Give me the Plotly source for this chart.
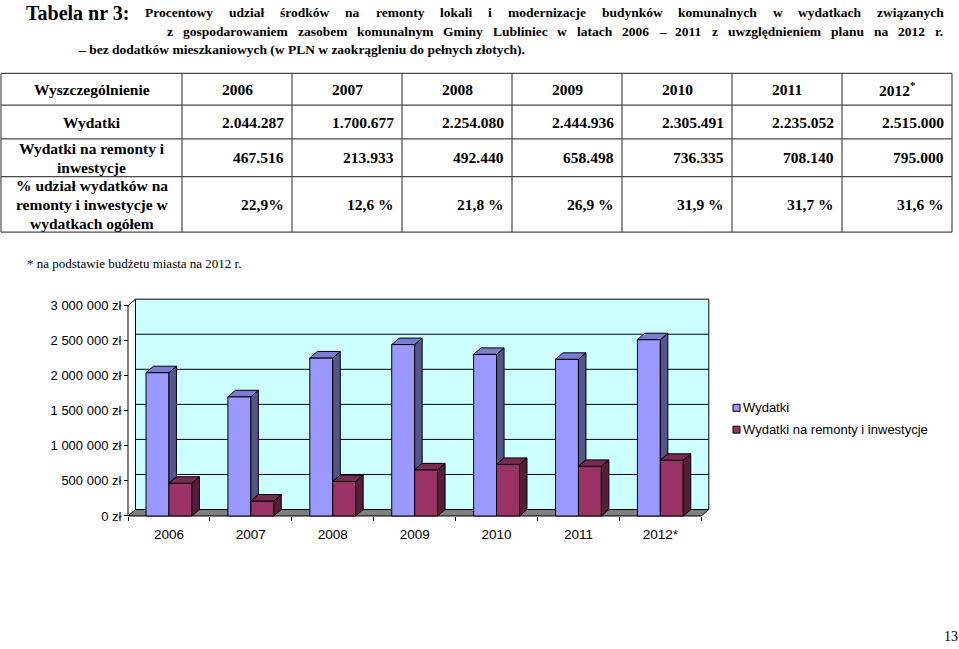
import plotly.graph_objects as go

# ---------------- data ----------------
years = ["2006", "2007", "2008", "2009", "2010", "2011", "2012"]
chart_labels = ["2006", "2007", "2008", "2009", "2010", "2011", "2012*"]
table_years = ["2006", "2007", "2008", "2009", "2010", "2011", "2012<sup>*</sup>"]
wydatki = [2044287, 1700677, 2254080, 2444936, 2305491, 2235052, 2515000]
remonty = [467516, 213933, 492440, 658498, 736335, 708140, 795000]
udzial = ["22,9%", "12,6 %", "21,8 %", "26,9 %", "31,9 %", "31,7 %", "31,6 %"]
series_names = ["Wydatki", "Wydatki na remonty i inwestycje"]
header_first = "Wyszczególnienie"
row_labels = [
    ["Wydatki"],
    ["Wydatki na remonty i", "inwestycje"],
    ["% udział wydatków na", "remonty i inwestycje w", "wydatkach ogółem"],
]
y_tick_values = [0, 500000, 1000000, 1500000, 2000000, 2500000, 3000000]
title_label = "Tabela nr 3:"
title_lines = [
    "Procentowy udział środków na remonty lokali i modernizacje budynków komunalnych w wydatkach związanych",
    "z gospodarowaniem zasobem komunalnym Gminy Lubliniec w latach 2006 – 2011 z uwzględnieniem planu na 2012 r.",
    "– bez dodatków mieszkaniowych (w PLN w zaokrągleniu do pełnych złotych).",
]
footnote = "* na podstawie budżetu miasta na 2012 r."
page_number = "13"

# ---------------- layout helpers ----------------
W, H = 959, 649
SERIF = "Liberation Serif"
SANS = "Liberation Sans"


def px(x):
    return x / W


def py(y):
    return 1 - y / H


annotations = []
shapes = []


def text(x, y, s, size, family=SERIF, bold=False, xanchor="left", yanchor="middle"):
    annotations.append(dict(
        x=px(x), y=py(y), xref="paper", yref="paper", text=s, showarrow=False,
        xanchor=xanchor, yanchor=yanchor, borderpad=0, borderwidth=0,
        font=dict(family=family, size=size, color="black",
                  weight="bold" if bold else "normal")))


def pline(x0, y0, x1, y1, color="#4a4a4a", width=1.2):
    shapes.append(dict(type="line", xref="paper", yref="paper",
                       x0=px(x0), y0=py(y0), x1=px(x1), y1=py(y1),
                       line=dict(color=color, width=width)))


# Times-Bold advance widths (per 1000 em) for justification
TB = {" ": 250, "–": 500, "(": 333, ")": 333, ".": 250, ":": 333, ",": 250,
      "a": 500, "b": 556, "c": 444, "d": 556, "e": 444, "f": 333, "g": 500, "h": 556,
      "i": 278, "j": 333, "k": 556, "l": 278, "m": 833, "n": 556, "o": 500, "p": 556,
      "q": 556, "r": 444, "s": 389, "t": 333, "u": 556, "v": 500, "w": 722, "x": 500,
      "y": 500, "z": 444, "ś": 389, "ó": 500, "ą": 500, "ę": 444, "ł": 278, "ż": 444,
      "ź": 444, "ń": 556, "ć": 444, "P": 611, "G": 778, "L": 667, "N": 722, "T": 667}


def em_width(s):
    return sum(TB.get(ch, 500) for ch in s) / 1000.0


def justified(line, x0, x1, y, size):
    words = line.split(" ")
    widths = [em_width(w) * size for w in words]
    gap = (x1 - x0 - sum(widths)) / (len(words) - 1)
    x = x0
    for w, wd in zip(words, widths):
        text(x, y, w, size, bold=True)
        x += wd + gap


# ---------------- title ----------------
TS = 13.5
text(26, 13, title_label, 20, bold=True)
justified(title_lines[0], 145, 944, 13, TS)
justified(title_lines[1], 167, 944, 32, TS)
text(78, 50, title_lines[2], TS, bold=True)

# ---------------- table ----------------
col_edges = [1, 182, 292, 402, 512, 622, 732, 842, 952]
row_edges = [74, 106, 140, 178, 234]
for xe in col_edges:
    pline(xe, row_edges[0], xe, row_edges[-1])
for ye in row_edges:
    pline(col_edges[0], ye, col_edges[-1], ye)

FS = 15.5
LS = 19
first_c = (col_edges[0] + col_edges[1]) / 2
rc = [(row_edges[i] + row_edges[i + 1]) / 2 for i in range(len(row_edges) - 1)]
text(first_c, rc[0], header_first, FS, bold=True, xanchor="center")
for j, yr in enumerate(table_years):
    cx = (col_edges[j + 1] + col_edges[j + 2]) / 2
    text(cx, rc[0], yr, FS, bold=True, xanchor="center")

for r, lines in enumerate(row_labels):
    yc = rc[r + 1]
    n_l = len(lines)
    for k, ln in enumerate(lines):
        text(first_c, yc + (k - (n_l - 1) / 2) * LS, ln, FS, bold=True, xanchor="center")


def fmt_pl(v):
    return f"{v:,}".replace(",", ".")


table_rows = [[fmt_pl(v) for v in wydatki], [fmt_pl(v) for v in remonty], udzial]
for r, vals in enumerate(table_rows):
    for j, s in enumerate(vals):
        text(col_edges[j + 2] - 8, rc[r + 1], s, FS, bold=True, xanchor="right")

text(27, 266, footnote, 13)
text(958, 641, page_number, 14, xanchor="right")

# ---------------- 3D column chart geometry ----------------
n = len(years)
X_LEFT, X_FRONT_RIGHT = 128.0, 701.3
Y_ZERO, Y_TOP = 520.0, 308.0
ymax = y_tick_values[-1]
kx = (X_FRONT_RIGHT - X_LEFT) / n
ky = (Y_ZERO - Y_TOP) / ymax
DXP, DYP = 7.5, 6.5
DX, DY = DXP / kx, DYP / ky
PADP = 3.0
xr = [-0.5 - PADP / kx, n - 0.5 + DX + PADP / kx]
yr = [-PADP / ky, ymax + DY + PADP / ky]
xdom = [px(X_LEFT - PADP), px(X_FRONT_RIGHT + DXP + PADP)]
ydom = [py(Y_ZERO + PADP), py(Y_TOP - DYP - PADP)]
BW = 0.28

BLUE = ("#9999FF", "#55558E", "#7B7BD2")
MAROON = ("#993366", "#561D3A", "#7A2952")

fig = go.Figure()
fig.add_trace(go.Bar(x=list(range(n)), y=wydatki, width=BW, offset=-BW, name=series_names[0],
                     marker=dict(color=BLUE[0], line=dict(color="black", width=1)),
                     showlegend=False))
fig.add_trace(go.Bar(x=list(range(n)), y=remonty, width=BW, offset=0, name=series_names[1],
                     marker=dict(color=MAROON[0], line=dict(color="black", width=1)),
                     showlegend=False))


def faces(vals, xoff, base_vals=None):
    sx, sy, tx, ty = [], [], [], []
    for i, v in enumerate(vals):
        x0 = i + xoff
        x1 = x0 + BW
        b = base_vals[i] if base_vals is not None else 0
        sx += [x1, x1 + DX, x1 + DX, x1, x1, None]
        sy += [b, b + DY, v + DY, v, b, None]
        tx += [x0, x1, x1 + DX, x0 + DX, x0, None]
        ty += [v, v, v + DY, v + DY, v, None]
    return sx, sy, tx, ty


def poly(xs, ys, color):
    return go.Scatter(x=xs, y=ys, mode="lines", fill="toself", fillcolor=color,
                      line=dict(color="black", width=1), hoverinfo="skip", showlegend=False)


bsx, bsy, btx, bty = faces(wydatki, -BW, remonty)
msx, msy, mtx, mty = faces(remonty, 0)
fig.add_trace(poly(bsx, bsy, BLUE[1]))
fig.add_trace(poly(btx, bty, BLUE[2]))
fig.add_trace(poly(msx, msy, MAROON[1]))
fig.add_trace(poly(mtx, mty, MAROON[2]))

# walls, floor, gridlines (data coordinates)
L, R = -0.5, n - 0.5
shapes.append(dict(type="rect", xref="x", yref="y", layer="below",
                   x0=L + DX, x1=R + DX, y0=DY, y1=ymax + DY,
                   fillcolor="#CCFFFF", line=dict(color="black", width=1)))
for v in y_tick_values[1:-1]:
    shapes.append(dict(type="line", xref="x", yref="y", layer="below",
                       x0=L + DX, x1=R + DX, y0=v + DY, y1=v + DY,
                       line=dict(color="black", width=1)))
shapes.append(dict(type="path", xref="x", yref="y", layer="below",
                   path=f"M{L},0 L{R},0 L{R + DX},{DY} L{L + DX},{DY} Z",
                   fillcolor="#808080", line=dict(color="black", width=1)))
shapes.append(dict(type="line", xref="x", yref="y", layer="below",
                   x0=L, x1=L, y0=0, y1=ymax, line=dict(color="black", width=1)))
shapes.append(dict(type="line", xref="x", yref="y", layer="below",
                   x0=L, x1=L + DX, y0=ymax, y1=ymax + DY, line=dict(color="black", width=1)))

# legend (drawn manually to match small square keys)
leg_items = [(series_names[0], BLUE[0], 411), (series_names[1], MAROON[0], 433)]
for name, col, yy in leg_items:
    shapes.append(dict(type="rect", xref="paper", yref="paper",
                       x0=px(733), x1=px(740), y0=py(yy + 3.5), y1=py(yy - 3.5),
                       fillcolor=col, line=dict(color="black", width=1)))
    text(743, yy, name, 13, family=SANS)


def zl(v):
    return f"{v:,}".replace(",", " ") + " zł"


fig.update_layout(
    width=W, height=H, margin=dict(l=0, r=0, t=0, b=0),
    paper_bgcolor="white", plot_bgcolor="rgba(0,0,0,0)",
    barmode="overlay", showlegend=False,
    xaxis=dict(domain=xdom, range=xr, anchor="free", position=py(Y_ZERO),
               tickmode="array", tickvals=list(range(n)), ticktext=chart_labels,
               ticks="", showgrid=False, zeroline=False, showline=False,
               ticklabelstandoff=9,
               tickfont=dict(family=SANS, size=13.5, color="black"),
               minor=dict(tickmode="array", tickvals=[i - 0.5 for i in range(n + 1)],
                          ticks="outside", ticklen=4, tickcolor="black", showgrid=False)),
    yaxis=dict(domain=ydom, range=yr, anchor="free", position=px(X_LEFT),
               tickmode="array", tickvals=y_tick_values,
               ticktext=[zl(v) for v in y_tick_values],
               ticks="outside", ticklen=4, tickcolor="black",
               showgrid=False, zeroline=False, showline=False,
               tickfont=dict(family=SANS, size=13, color="black")),
    shapes=shapes, annotations=annotations,
)

fig.write_html("out.html", config={"displayModeBar": False},
               post_script="document.body.style.margin='0';document.body.style.overflow='hidden';")
